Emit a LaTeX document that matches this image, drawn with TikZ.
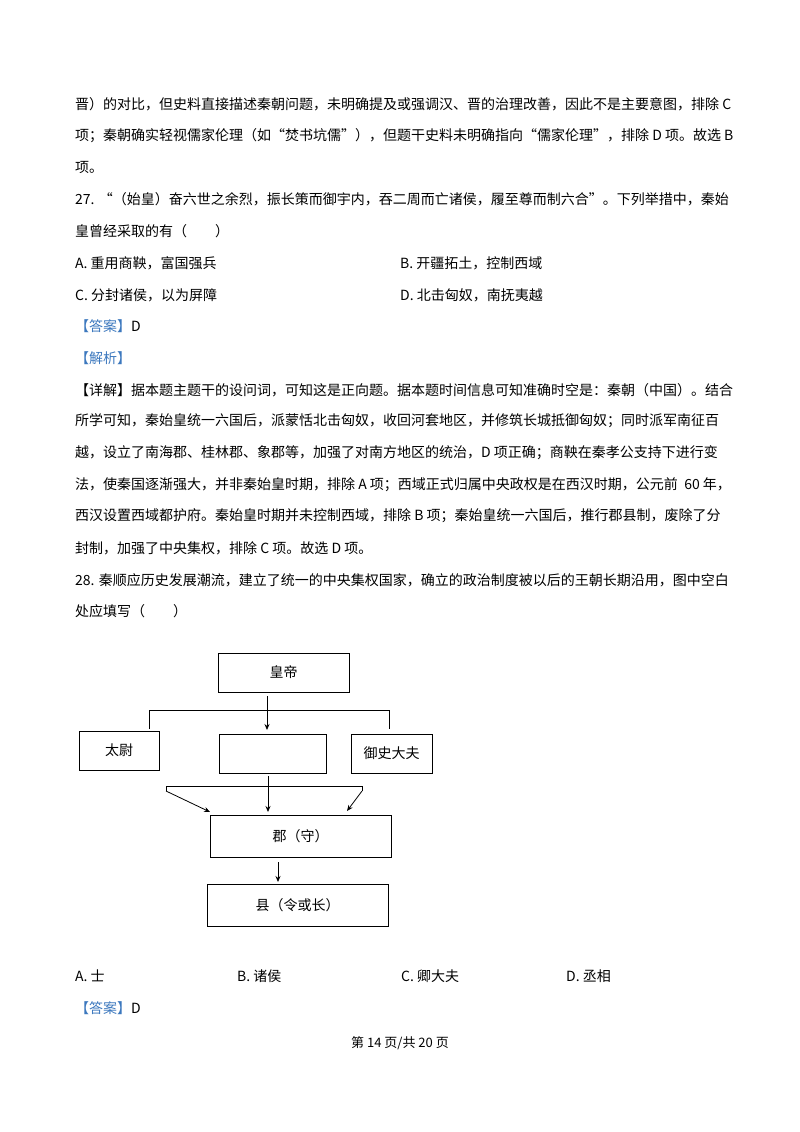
\documentclass[tikz,border=0pt]{standalone}
\usepackage{fontspec}
\usetikzlibrary{arrows.meta}
\setmainfont{Noto Sans CJK SC}
\definecolor{ans}{RGB}{60,120,190}
\begin{document}
\begin{tikzpicture}[x=1pt,y=-1pt,
  ln/.style={anchor=west,inner sep=0pt,font=\fontsize{14}{14}\selectfont},
  bx/.style={draw,line width=0.9pt,inner sep=0pt,font=\fontsize{14}{14}\selectfont},
  ar/.style={-{Stealth[length=6pt,width=5pt]},line width=0.8pt},
  ln2/.style={line width=0.8pt}]
\useasboundingbox[fill=white] (0,0) rectangle (800,1132);
\node[ln] (l1) at (75,104) {晋）的对比，但史料直接描述秦朝问题，未明确提及或强调汉、晋的治理改善，因此不是主要意图，排除 C};
\node[ln] (l2) at (75,136) {项；秦朝确实轻视儒家伦理（如“焚书坑儒”），但题干史料未明确指向“儒家伦理”，排除 D 项。故选 B};
\node[ln] (l3) at (75,167) {项。};
\node[ln] (l4) at (75,199) {27. “（始皇）奋六世之余烈，振长策而御宇内，吞二周而亡诸侯，履至尊而制六合”。下列举措中，秦始};
\node[ln] (l5) at (75,231) {皇曾经采取的有（\quad\quad）};
\node[ln] (oa) at (75,263) {A.\ 重用商鞅，富国强兵};
\node[ln] (ob) at (400,263) {B.\ 开疆拓土，控制西域};
\node[ln] (oc) at (75,295) {C.\ 分封诸侯，以为屏障};
\node[ln] (od) at (400,295) {D.\ 北击匈奴，南抚夷越};
\node[ln] (a1) at (75,326) {\textcolor{ans}{【答案】}D};
\node[ln] (a2) at (75,358) {\textcolor{ans}{【解析】}};
\node[ln] (d1) at (75,390) {【详解】据本题主题干的设问词，可知这是正向题。据本题时间信息可知准确时空是：秦朝（中国）。结合};
\node[ln] (d2) at (75,421) {所学可知，秦始皇统一六国后，派蒙恬北击匈奴，收回河套地区，并修筑长城抵御匈奴；同时派军南征百};
\node[ln] (d3) at (75,453) {越，设立了南海郡、桂林郡、象郡等，加强了对南方地区的统治，D 项正确；商鞅在秦孝公支持下进行变};
\node[ln] (d4) at (75,485) {法，使秦国逐渐强大，并非秦始皇时期，排除 A 项；西域正式归属中央政权是在西汉时期，公元前 \ 60 年，};
\node[ln] (d5) at (75,516) {西汉设置西域都护府。秦始皇时期并未控制西域，排除 B 项；秦始皇统一六国后，推行郡县制，废除了分};
\node[ln] (d6) at (75,548) {封制，加强了中央集权，排除 C 项。故选 D 项。};
\node[ln] (q1) at (75,580) {28. 秦顺应历史发展潮流，建立了统一的中央集权国家，确立的政治制度被以后的王朝长期沿用，图中空白};
\node[ln] (q2) at (75,611) {处应填写（\quad\quad）};
% diagram
\node[bx,minimum width=131pt,minimum height=39pt] (hd) at (283.5,672.5) {皇帝};
\node[bx,minimum width=80pt,minimum height=39pt] (tw) at (119,750.5) {太尉};
\node[bx,minimum width=107pt,minimum height=39pt] (bk) at (272.5,753.5) {};
\node[bx,minimum width=81pt,minimum height=39pt] (ys) at (391.5,753.5) {御史大夫};
\node[bx,minimum width=181pt,minimum height=42pt] (jun) at (300.5,836) {郡（守）};
\node[bx,minimum width=181pt,minimum height=42pt] (xian) at (297.5,905) {县（令或长）};
\coordinate (t1) at (149,729); \coordinate (t2) at (149,710);
\coordinate (t3) at (389,710); \coordinate (t4) at (389,729);
\draw[ln2] (t1) -- (t2) -- (t3) -- (t4);
\draw[ar] (267,696) -- (267,730);
\coordinate (b1) at (166,791); \coordinate (b2) at (166,786);
\coordinate (b3) at (362,786); \coordinate (b4) at (362,791);
\draw[ln2] (b1) -- (b2) -- (b3) -- (b4);
\draw[ar] (b1) -- (210,812);
\draw[ar] (b4) -- (347,811);
\draw[ar] (268,776) -- (268,812);
\draw[ar] (278,862) -- (278,882);
\node[ln] (pa) at (75,976) {A.\ 士};
\node[ln] (pb) at (237,976) {B.\ 诸侯};
\node[ln] (pc) at (401,976) {C.\ 卿大夫};
\node[ln] (pd) at (566,976) {D.\ 丞相};
\node[ln] (a3) at (75,1008) {\textcolor{ans}{【答案】}D};
\node[inner sep=0pt,font=\fontsize{13}{13}\selectfont] (ft) at (400,1043) {第 14 页/共 20 页};
\end{tikzpicture}
\end{document}
